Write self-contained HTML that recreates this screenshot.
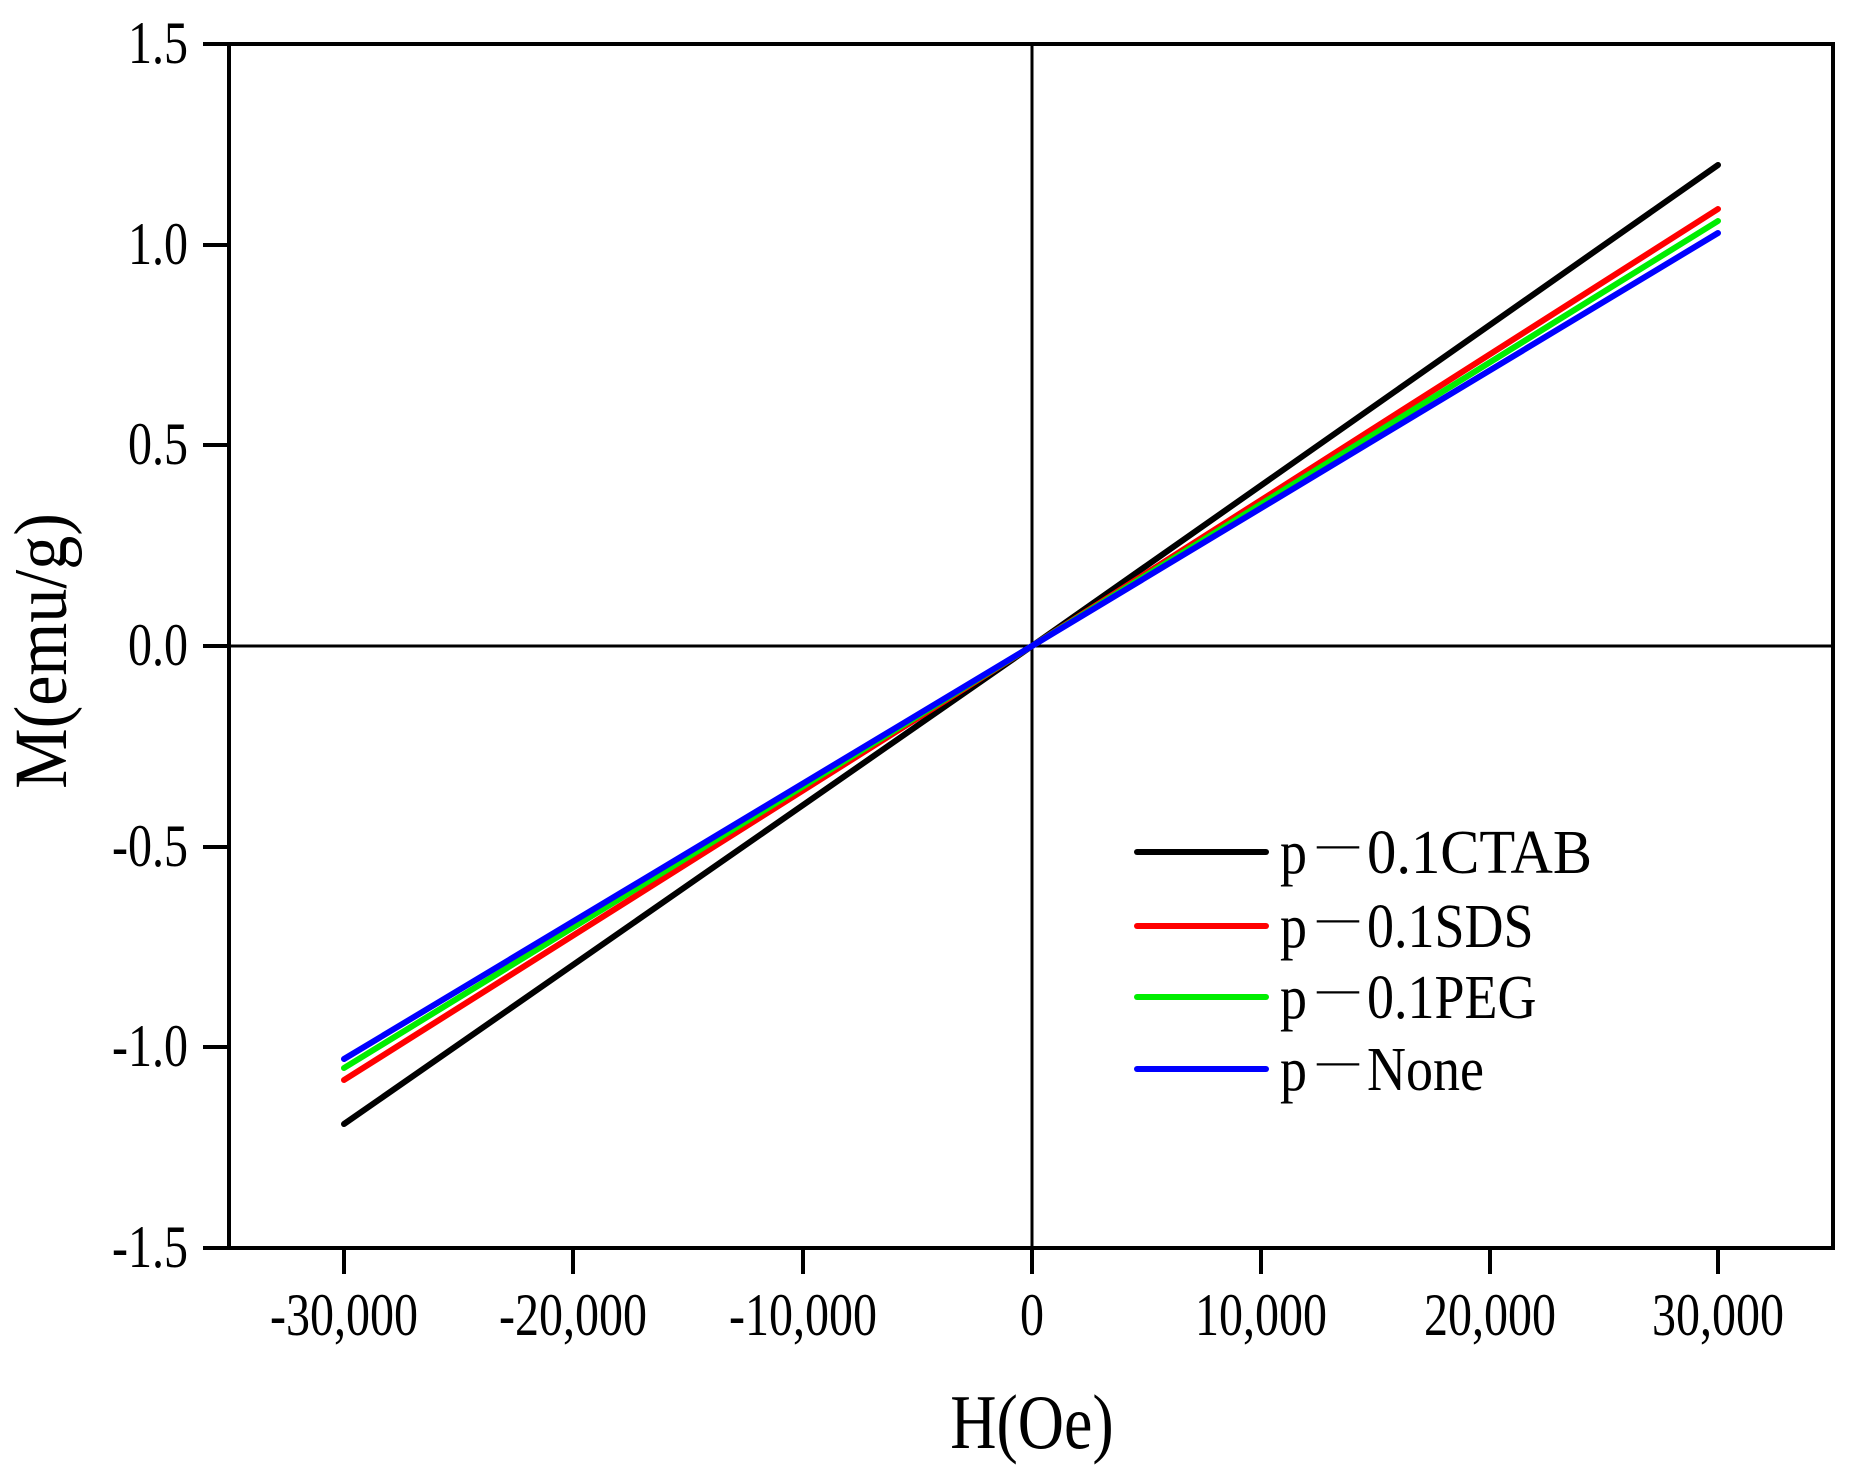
<!DOCTYPE html>
<html><head><meta charset="utf-8"><style>html,body{margin:0;padding:0;background:#fff}</style></head>
<body>
<svg width="1855" height="1475" xmlns="http://www.w3.org/2000/svg" font-family="Liberation Serif, serif">
<rect width="1855" height="1475" fill="#fff"/>
<line x1="229" y1="646" x2="1833" y2="646" stroke="#000" stroke-width="3"/>
<line x1="1032" y1="44" x2="1032" y2="1248" stroke="#000" stroke-width="3"/>
<g stroke-width="6" fill="none" stroke-linecap="round">
<polyline stroke="#000" points="344,1124 1032,646 1718,165"/>
<polyline stroke="#f00" points="344,1080 1032,646 1718,209"/>
<polyline stroke="#0e0" points="344,1068 1032,646 1718,221"/>
<polyline stroke="#00f" points="344,1059 1032,646 1718,233"/>
</g>
<rect x="229" y="44" width="1604" height="1204" fill="none" stroke="#000" stroke-width="4"/>
<g stroke="#000" stroke-width="4">
<line x1="203" y1="44" x2="229" y2="44"/><line x1="203" y1="245" x2="229" y2="245"/>
<line x1="203" y1="445" x2="229" y2="445"/><line x1="203" y1="646" x2="229" y2="646"/>
<line x1="203" y1="847" x2="229" y2="847"/><line x1="203" y1="1047" x2="229" y2="1047"/>
<line x1="203" y1="1248" x2="229" y2="1248"/>
<line x1="344" y1="1248" x2="344" y2="1274"/><line x1="573" y1="1248" x2="573" y2="1274"/>
<line x1="803" y1="1248" x2="803" y2="1274"/><line x1="1032" y1="1248" x2="1032" y2="1274"/>
<line x1="1261" y1="1248" x2="1261" y2="1274"/><line x1="1490" y1="1248" x2="1490" y2="1274"/>
<line x1="1718" y1="1248" x2="1718" y2="1274"/>
</g>
<g font-size="48" text-anchor="end">
<text transform="translate(188,63) scale(1,1.25)">1.5</text>
<text transform="translate(188,264) scale(1,1.25)">1.0</text>
<text transform="translate(188,464) scale(1,1.25)">0.5</text>
<text transform="translate(188,665) scale(1,1.25)">0.0</text>
<text transform="translate(188,866) scale(1,1.25)">-0.5</text>
<text transform="translate(188,1066) scale(1,1.25)">-1.0</text>
<text transform="translate(188,1267) scale(1,1.25)">-1.5</text>
</g>
<g font-size="48" text-anchor="middle">
<text transform="translate(344,1335) scale(1,1.25)">-30,000</text>
<text transform="translate(573,1335) scale(1,1.25)">-20,000</text>
<text transform="translate(803,1335) scale(1,1.25)">-10,000</text>
<text transform="translate(1032,1335) scale(1,1.25)">0</text>
<text transform="translate(1261,1335) scale(1,1.25)">10,000</text>
<text transform="translate(1490,1335) scale(1,1.25)">20,000</text>
<text transform="translate(1718,1335) scale(1,1.25)">30,000</text>
</g>
<text transform="translate(1032,1448) scale(1,1.2)" font-size="64" text-anchor="middle">H(Oe)</text>
<text transform="translate(66,651) rotate(-90) scale(1,1.1)" font-size="68" text-anchor="middle">M(emu/g)</text>
<g stroke-width="6" stroke-linecap="round">
<line x1="1137" y1="852" x2="1266" y2="852" stroke="#000"/>
<line x1="1137" y1="926" x2="1266" y2="926" stroke="#f00"/>
<line x1="1137" y1="997" x2="1266" y2="997" stroke="#0e0"/>
<line x1="1137" y1="1069" x2="1266" y2="1069" stroke="#00f"/>
</g>
<g font-size="54">
<g transform="translate(0,873) scale(1,1.15)"><text x="1280" y="0">p</text><text x="1317" y="-13" textLength="42" lengthAdjust="spacingAndGlyphs" font-size="40">—</text><text x="1367" y="0" textLength="225" lengthAdjust="spacingAndGlyphs">0.1CTAB</text></g>
<g transform="translate(0,947) scale(1,1.15)"><text x="1280" y="0">p</text><text x="1317" y="-13" textLength="42" lengthAdjust="spacingAndGlyphs" font-size="40">—</text><text x="1367" y="0">0.1SDS</text></g>
<g transform="translate(0,1018) scale(1,1.15)"><text x="1280" y="0">p</text><text x="1317" y="-13" textLength="42" lengthAdjust="spacingAndGlyphs" font-size="40">—</text><text x="1367" y="0">0.1PEG</text></g>
<g transform="translate(0,1090) scale(1,1.15)"><text x="1280" y="0">p</text><text x="1317" y="-13" textLength="42" lengthAdjust="spacingAndGlyphs" font-size="40">—</text><text x="1367" y="0">None</text></g>
</g>
</svg>
</body></html>
